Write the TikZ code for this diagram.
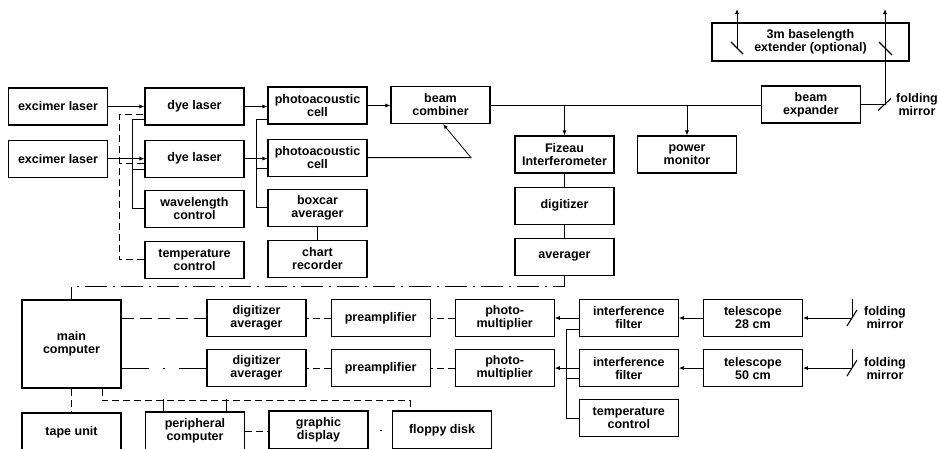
\documentclass[tikz,border=0pt]{standalone}
\usepackage{fontspec}
\setmainfont{Liberation Sans}
\usetikzlibrary{arrows.meta,positioning}

\begin{document}
\begin{tikzpicture}[
  x=1pt, y=-1pt,
  box/.style={rectangle, draw, line width=1.1pt, minimum width=99pt, minimum height=37pt, inner sep=1pt, align=center, font=\fontsize{12.5}{13}\selectfont\bfseries},
  note/.style={align=center, inner sep=0pt, font=\fontsize{12.5}{13}\selectfont\bfseries},
  arrow/.style={-{Latex[length=5pt,width=4pt]}, line width=0.8pt},
  link/.style={line width=0.8pt},
  dashlink/.style={line width=0.8pt, dash pattern=on 7pt off 4pt},
  longdash/.style={line width=0.8pt, dash pattern=on 12pt off 6pt},
  dashdot/.style={line width=0.8pt, dash pattern=on 22pt off 6pt on 2pt off 6pt},
  dashdotlong/.style={line width=0.8pt, dash pattern=on 27pt off 14pt on 2pt off 14pt},
  dotlink/.style={line width=0.8pt, dash pattern=on 2pt off 22pt, dash phase=13pt},
  mirrorline/.style={line width=1.1pt},
  node distance=24pt
]
  \useasboundingbox (0,0) rectangle (939,448);
  \clip (0,0) rectangle (939,448);

  % laser stage
  \node (exc1) [box] at (58,106.5) {excimer laser};
  \node (exc2) [box, below=14pt of exc1] {excimer laser};
  \node (dye1) [box] at (194.5,106.5) {dye laser};
  \node (dye2) [box, below=14pt of dye1] {dye laser};
  \node (wlc) [box, below=12pt of dye2] {wavelength\\control};
  \node (tc1) [box, below=13pt of wlc] {temperature\\control};
  \node (pa1) [box] at (317.5,105.5) {photoacoustic\\cell};
  \node (pa2) [box, below=14pt of pa1] {photoacoustic\\cell};
  \node (boxcar) [box, below=12pt of pa2] {boxcar\\averager};
  \node (chart) [box, below=13pt of boxcar] {chart\\recorder};
  \node (comb) [box] at (440.5,105) {beam\\combiner};
  \coordinate (bend) at (471,0);

  % beam line
  \node (fizeau) [box] at (564.5,154.5) {Fizeau\\Interferometer};
  \node (digi) [box, below=13pt of fizeau] {digitizer};
  \node (avg) [box, below=13pt of digi] {averager};
  \node (power) [box] at (687,154.5) {power\\monitor};
  \node (expander) [box] at (811,104.5) {beam\\expander};
  \node (extender) [box, minimum width=197pt, minimum height=38pt] at (810.5,42) {3m baselength\\extender (optional)};
  \coordinate (fm1) at (885,104.5);
  \coordinate (sky1) at (885,9);
  \coordinate (ext1) at (737,48);
  \coordinate (sky2) at (737,9);
  \coordinate (ext2) at (885,48);
  \node (fmtext1) [note, anchor=west] at (896,104.5) {folding\\mirror};

  % detection
  \node (main) [box, minimum height=88pt] at (71.5,344) {main\\computer};
  \node (da1) [box] at (256.5,318) {digitizer\\averager};
  \node (pre1) [box, right=of da1] {preamplifier};
  \node (pm1) [box, right=of pre1] {photo-\\multiplier};
  \node (if1) [box, right=of pm1] {interference\\filter};
  \node (tel1) [box, right=of if1] {telescope\\28 cm};
  \node (da2) [box, below=12pt of da1] {digitizer\\averager};
  \node (pre2) [box, right=of da2] {preamplifier};
  \node (pm2) [box, right=of pre2] {photo-\\multiplier};
  \node (if2) [box, right=of pm2] {interference\\filter};
  \node (tel2) [box, right=of if2] {telescope\\50 cm};
  \node (tc2) [box, below=12pt of if2] {temperature\\control};
  \coordinate (fm2) at ([xshift=49pt]tel1.east);
  \coordinate (fm3) at ([xshift=49pt]tel2.east);
  \coordinate (sky3) at ([yshift=19pt]fm2);
  \coordinate (sky4) at ([yshift=19pt]fm3);
  \node (fmtext2) [note, anchor=west] at ([xshift=12pt]fm2) {folding\\mirror};
  \node (fmtext3) [note, anchor=west] at ([xshift=12pt]fm3) {folding\\mirror};

  % peripherals
  \node (tape) [box, minimum height=38pt] at (71.5,432) {tape unit};
  \node (periph) [box, minimum height=38pt] at (195,431) {peripheral\\computer};
  \node (graphic) [box, minimum height=38pt] at (318.5,430) {graphic\\display};
  \node (floppy) [box, minimum height=38pt] at (442,430) {floppy disk};

  % laser connections
  \draw [arrow] (exc1) -- (dye1);
  \draw [arrow] (exc2) -- (dye2);
  \draw [arrow] (dye1.east) -- (dye1.east -| pa1.west);
  \draw [arrow] (dye2.east) -- (dye2.east -| pa2.west);
  \draw [arrow] (pa1.east) -- (pa1.east -| comb.west);
  \draw [arrow] (pa2.east) -- (pa2.east -| bend) -- ([xshift=2.5pt]comb.south);
  \draw [link] (wlc.west) -- ++(-12,0) |- ([yshift=-12.5pt]dye1.west);
  \draw [link] ([yshift=-10.5pt]dye2.west) -- ++(-12,0);
  \draw [dashlink] (tc1.west) -- ++(-25,0) |- ([yshift=-7.5pt]dye1.west);
  \draw [dashlink] ([yshift=-4.5pt]dye2.west) -- ++(-25,0);
  \draw [link] (boxcar.west) -- ++(-11,0) |- ([yshift=-13.5pt]pa1.west);
  \draw [link] ([yshift=-11pt]pa2.west) -- ++(-11,0);
  \draw [link] (boxcar) -- (chart);

  % beam connections
  \draw [link] (comb.east) -- (comb.east -| expander.west);
  \draw [arrow] (fizeau.north |- comb.east) -- (fizeau.north);
  \draw [arrow] (power.north |- comb.east) -- (power.north);
  \draw [link] (expander.east) -- (fm1);
  \draw [arrow] (fm1) -- (sky1);
  \draw [mirrorline] ([shift={(-7,6)}]fm1) -- ([shift={(6,-6)}]fm1);
  \draw [arrow] (ext1) -- (sky2);
  \draw [mirrorline] ([shift={(-6,-6)}]ext1) -- ([shift={(6,6)}]ext1);
  \draw [mirrorline] ([shift={(-6,-6)}]ext2) -- ([shift={(7,7)}]ext2);
  \draw [link] (fizeau) -- (digi);
  \draw [link] (digi) -- (avg);
  \draw [dashdot] (avg.south) |- ([yshift=13pt]main.north) -- (main.north);

  % detection connections
  \draw [arrow] (fm2) -- (tel1.east);
  \draw [arrow] (fm3) -- (tel2.east);
  \draw [link] (fm2) -- (sky3);
  \draw [link] (fm3) -- (sky4);
  \draw [mirrorline] ([shift={(-5,8)}]fm2) -- ([shift={(5,-8)}]fm2);
  \draw [mirrorline] ([shift={(-5,8)}]fm3) -- ([shift={(5,-8)}]fm3);
  \draw [arrow] (tel1) -- (if1);
  \draw [arrow] (tel2) -- (if2);
  \draw [arrow] (if1) -- (pm1);
  \draw [arrow] (if2) -- (pm2);
  \draw [link] (tc2.west) -- ++(-12,0) |- ([yshift=-11.5pt]if1.west);
  \draw [link] ([yshift=-10.5pt]if2.west) -- ++(-12,0);
  \draw [dashlink] (pm1) -- (pre1);
  \draw [dashlink] (pre1) -- (da1);
  \draw [dashlink] (pm2) -- (pre2);
  \draw [dashlink] (pre2) -- (da2);
  \draw [longdash] (da1.west) -- (da1.west -| main.east);
  \draw [dashdotlong] (da2.west) -- (da2.west -| main.east);

  % peripheral connections
  \draw [dashlink] (main.south) -- (tape.north);
  \draw [dashlink] ([xshift=30.5pt]main.south) |- ([xshift=-32pt,yshift=10pt]floppy.north) -- ([xshift=-32pt]floppy.north);
  \draw [link] ([xshift=-32pt]periph.north) -- ([xshift=-32pt,yshift=12pt]periph.north);
  \draw [link] ([xshift=31pt]periph.north) -- ([xshift=31pt,yshift=12pt]periph.north);
  \draw [dashlink] (periph.east) -- (periph.east -| graphic.west);
  \draw [dotlink] (graphic.east) -- (graphic.east -| floppy.west);
\end{tikzpicture}
\end{document}
